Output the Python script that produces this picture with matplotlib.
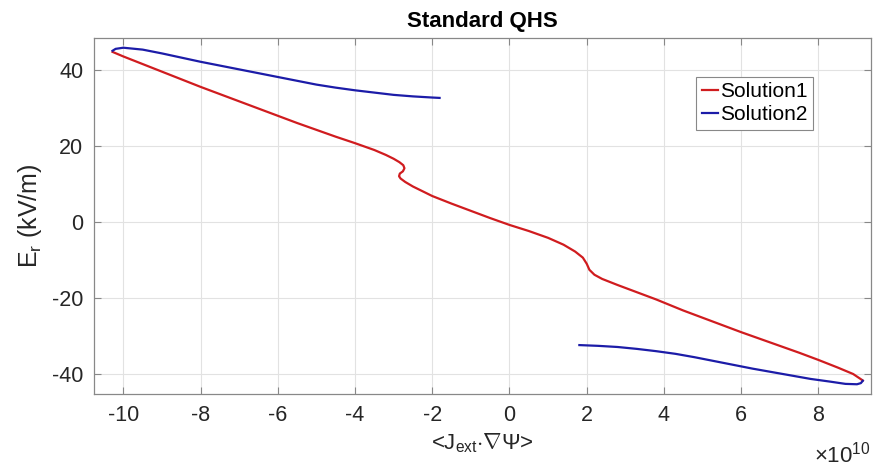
import numpy as np
import matplotlib
matplotlib.use('Agg')
import matplotlib.pyplot as plt

plt.rcParams['font.family'] = ['Liberation Sans', 'DejaVu Sans']
plt.rcParams['mathtext.fontset'] = 'custom'
plt.rcParams['mathtext.rm'] = 'Liberation Sans'
plt.rcParams['mathtext.it'] = 'Liberation Sans'
plt.rcParams['axes.unicode_minus'] = False

# Solution1 (red), x in units of 1e10
sol1_x = [-10.28, -10.0, -9.5, -9.0, -8.5, -8.0, -7.5, -7.0, -6.5, -6.0, -5.5, -5.0,
          -4.5, -4.0, -3.5, -3.2, -3.0, -2.85, -2.75, -2.72, -2.76, -2.84, -2.86, -2.82,
          -2.7, -2.5, -2.0, -1.5, -1.0, -0.5, 0.0, 0.5, 1.0, 1.4, 1.7, 1.9, 2.0, 2.07,
          2.2, 2.4, 2.8, 3.3, 3.8, 4.5, 5.0, 5.5, 6.0, 6.5, 7.0, 7.5, 8.0, 8.5, 8.9, 9.15]
sol1_y = [44.7, 43.5, 41.5, 39.5, 37.5, 35.5, 33.6, 31.7, 29.8, 27.9, 26.0, 24.2,
          22.4, 20.7, 18.9, 17.6, 16.6, 15.7, 14.9, 14.1, 13.3, 12.7, 12.0, 11.4,
          10.5, 9.3, 6.8, 4.8, 2.9, 1.0, -0.8, -2.4, -4.2, -6.0, -7.8, -9.4, -11.0, -12.6,
          -13.9, -15.0, -16.6, -18.5, -20.4, -23.3, -25.2, -27.1, -29.0, -30.8, -32.6, -34.4,
          -36.3, -38.3, -40.0, -41.7]

# Solution2 (blue), two branches
sol2a_x = [-10.28, -10.2, -10.0, -9.5, -9.0, -8.5, -8.0, -7.5, -7.0, -6.5, -6.0, -5.5,
           -5.0, -4.5, -4.0, -3.5, -3.0, -2.5, -2.0, -1.81]
sol2a_y = [45.0, 45.5, 45.8, 45.3, 44.3, 43.2, 42.1, 41.1, 40.1, 39.1, 38.1, 37.1,
           36.1, 35.3, 34.6, 34.0, 33.4, 33.0, 32.7, 32.6]
sol2b_x = [1.81, 2.3, 2.8, 3.3, 3.8, 4.3, 4.8, 5.3, 5.8, 6.3, 6.8, 7.3, 7.8, 8.3,
           8.7, 9.0, 9.1, 9.15]
sol2b_y = [-32.4, -32.6, -32.9, -33.4, -34.0, -34.7, -35.6, -36.6, -37.6, -38.6, -39.5,
           -40.4, -41.3, -42.0, -42.6, -42.7, -42.4, -41.8]

red = '#d01c1f'
blue = '#1c1ca8'

fig = plt.figure(figsize=(8.74, 4.67), dpi=100)
ax = fig.add_axes([0.108, 0.156, 0.888, 0.763])

ax.plot(sol1_x, sol1_y, color=red, lw=1.6, label='Solution1', solid_joinstyle='round')
ax.plot(sol2a_x, sol2a_y, color=blue, lw=1.6, label='Solution2', solid_joinstyle='round')
ax.plot(sol2b_x, sol2b_y, color=blue, lw=1.6, solid_joinstyle='round')

ax.set_xlim(-10.75, 9.35)
ax.set_ylim(-45.3, 48.4)
ax.set_xticks(np.arange(-10, 9, 2))
ax.set_yticks([-40, -20, 0, 20, 40])
ax.grid(True, color='#e2e2e2', lw=0.8)
ax.tick_params(direction='in', top=True, right=True, length=5, width=0.8,
               labelsize=15.5, colors='#888888', labelcolor='#262626', pad=8)
for s in ax.spines.values():
    s.set_color('#888888')
    s.set_linewidth(0.9)

ax.set_title('Standard QHS', fontsize=16, fontweight='bold', pad=8)
ax.set_ylabel('E$_\\mathrm{r}$ (kV/m)', fontsize=18, color='#262626', labelpad=6)
ax.set_xlabel('<J$_\\mathrm{ext}$$\\cdot\\nabla\\Psi$>', fontsize=16, color='#262626', labelpad=4)
ax.text(1.0, -0.17, '×10$^{10}$', transform=ax.transAxes, fontsize=16,
        ha='right', va='center', color='#262626')

leg = ax.legend(loc='upper right', bbox_to_anchor=(0.926, 0.89), fontsize=15,
                handlelength=0.8, handletextpad=0.1, borderpad=0.25, labelspacing=0.2,
                fancybox=False, framealpha=1, borderaxespad=0)
leg.get_frame().set_edgecolor('#888888')
leg.get_frame().set_linewidth(0.8)

fig.savefig('out.png', dpi=100)
